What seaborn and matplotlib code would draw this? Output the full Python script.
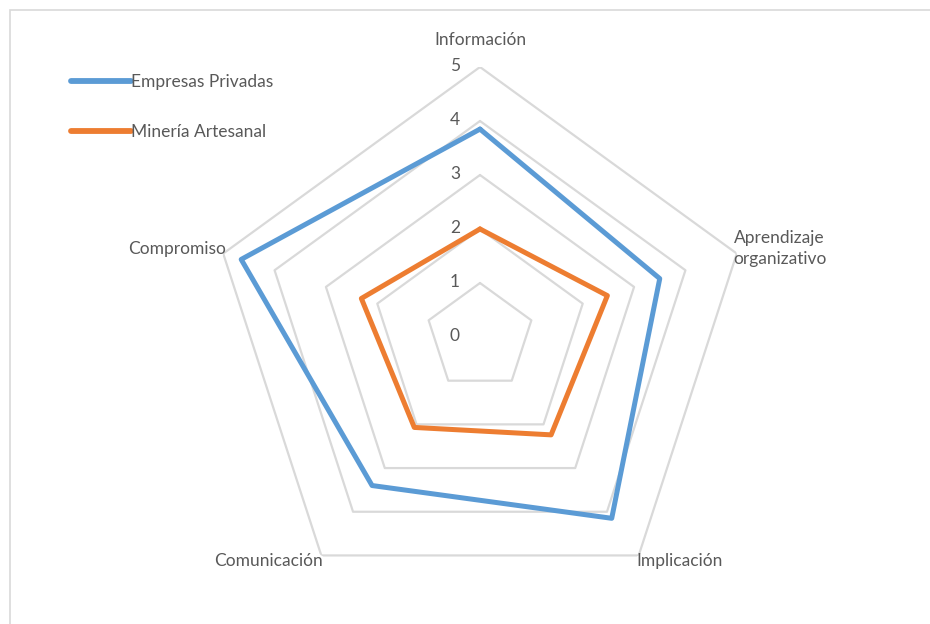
import numpy as np
import pandas as pd
import matplotlib
matplotlib.use("Agg")
import matplotlib.pyplot as plt
from matplotlib.patches import Rectangle
import seaborn as sns

categories = ["Información", "Aprendizaje\norganizativo", "Implicación", "Comunicación", "Compromiso"]
empresas_privadas = [3.85, 3.5, 4.15, 3.4, 4.65]
mineria_artesanal = [2.0, 2.48, 2.24, 2.07, 2.31]
series_names = ["Empresas Privadas", "Minería Artesanal"]
ring_values = [1, 2, 3, 4, 5]
tick_labels = ["0", "1", "2", "3", "4", "5"]

sns.set_theme(style="white")
plt.rcParams['font.family'] = ['Lato', 'DejaVu Sans']

TXT = "#595959"
GRID = "#d9d9d9"
colors = ["#5B9BD5", "#ED7D31"]
FS = 12.5

fig = plt.figure(figsize=(9.3, 6.24), dpi=100)
fig.patch.set_facecolor("white")
fig.patches.append(Rectangle((10/930, -0.1), 1.2, (624-10)/624 + 0.1,
                             transform=fig.transFigure, fill=False,
                             edgecolor=GRID, linewidth=1.2))

ax = fig.add_axes([(480-270)/930, (287-270)/624, 540/930, 540/624], projection="polar")
ax.set_theta_offset(np.pi/2)
ax.set_theta_direction(-1)
ax.set_ylim(0, 5)
ax.grid(False)
ax.spines["polar"].set_visible(False)
ax.set_xticks([])
ax.set_yticks([])
ax.set_facecolor("none")

n = len(categories)
angles = np.linspace(0, 2*np.pi, n, endpoint=False)
ang_closed = np.concatenate([angles, angles[:1]])

for v in ring_values:
    ax.plot(ang_closed, [v]*(n+1), color=GRID, linewidth=1.6, zorder=1)

for name, vals, c in zip(series_names, [empresas_privadas, mineria_artesanal], colors):
    df = pd.DataFrame({"theta": ang_closed, "r": list(vals) + [vals[0]]})
    sns.lineplot(data=df, x="theta", y="r", ax=ax, sort=False, estimator=None,
                 color=c, linewidth=3.6, label=name, zorder=3)

ax.set_xlabel("")
ax.set_ylabel("")

# radial tick labels
for i, t in enumerate(tick_labels):
    ax.annotate(t, xy=(0, i), xytext=(-25, 1), textcoords="offset pixels",
                ha="center", va="center", fontsize=FS, color=TXT)

# category labels
offsets = [(0, 27, "center"), (-4, 5, "left"), (-2, -6, "left"), (2, -6, "right"), (3, 5, "right")]
for ang, lab, (dx, dy, ha) in zip(angles, categories, offsets):
    ax.annotate(lab, xy=(ang, 5), xytext=(dx, dy), textcoords="offset pixels",
                ha=ha, va="center", fontsize=FS, color=TXT, linespacing=1.35,
                multialignment="center", annotation_clip=False)

leg = ax.legend(loc="upper left", bbox_to_anchor=(55/930, 1 - 58/624),
                bbox_transform=fig.transFigure, frameon=False, fontsize=FS,
                handlelength=3.5, handletextpad=0.0, labelspacing=2.0)
for t in leg.get_texts():
    t.set_color(TXT)
for l in leg.get_lines():
    l.set_linewidth(4.2)

fig.savefig("out.png", dpi=100, facecolor="white")
